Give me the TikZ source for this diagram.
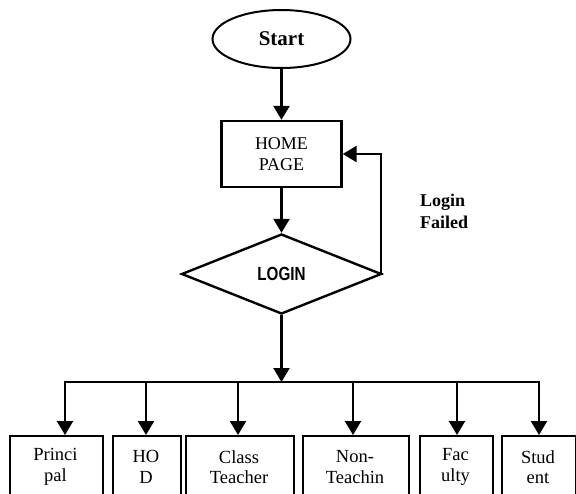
\documentclass[tikz,border=0pt]{standalone}
\usepackage{fontspec}
\setmainfont{Liberation Serif}
\newfontfamily\arialfont{Liberation Sans}
\usetikzlibrary{shapes.geometric,arrows.meta}
\tikzset{
  line/.style={line width=2.4pt},
  arr/.style={line width=2.4pt,-{Triangle[width=16pt,length=14pt]}},
  boxnode/.style={draw,line width=2.4pt,inner sep=0pt,anchor=north west},
  boxtext/.style={font=\fontsize{18.5}{20.5}\selectfont,align=center,inner sep=0pt},
}
\begin{document}
\begin{tikzpicture}[x=1pt,y=-1pt]
\useasboundingbox (0,0) rectangle (576,493);
\clip (0,0) rectangle (576,493);
% start
\node[draw,ellipse,line width=2pt,minimum width=138pt,minimum height=58pt,inner sep=0pt,
      font=\fontsize{21}{24}\bfseries] (start) at (281.5,39) {Start};
% home
\node[draw,line width=2.4pt,minimum width=120pt,minimum height=66pt,inner sep=0pt,align=center,
      font=\fontsize{18}{21}\selectfont] (home) at (281.5,154) {HOME\\PAGE};
% login
\node[draw,diamond,line width=2.4pt,minimum width=200pt,minimum height=80pt,inner sep=0pt,aspect=2.5,
      font=\arialfont\bfseries\fontsize{19}{22}\selectfont] (login) at (281.5,274) {\scalebox{0.8}[1]{LOGIN}};
\node[anchor=west,align=left,inner sep=0pt,font=\fontsize{18}{22}\bfseries] (failed) at (420,211) {Login\\Failed};
\coordinate (fb) at (381,154);
\coordinate (bar) at (281.5,382);
\draw[arr] (start.south) -- (home.north);
\draw[arr] (home.south) -- (login.north);
\draw[line] (login.east) -- (login.east -| fb) -- (fb);
\draw[arr] ([xshift=1.2pt]fb) -- (home.east);
\draw[arr] (login.south) -- (bar);
% boxes
\node[boxnode,minimum width=93pt,minimum height=90pt] (b1) at (9,435) {};
\node[boxnode,minimum width=68pt,minimum height=90pt] (b2) at (112,435) {};
\node[boxnode,minimum width=108pt,minimum height=90pt] (b3) at (185,435) {};
\node[boxnode,minimum width=106pt,minimum height=90pt] (b4) at (302,435) {};
\node[boxnode,minimum width=73pt,minimum height=90pt] (b5) at (419,435) {};
\node[boxnode,minimum width=74pt,minimum height=90pt] (b6) at (501,435) {};
\node[boxtext] (t1) at (55.5,467) {Princi\\pal};
\node[boxtext] (t2) at (146,467) {HO\\D};
\node[boxtext] (t3) at (239,467) {Class\\Teacher};
\node[boxtext] (t4) at (355,467) {Non-\\Teachin};
\node[boxtext] (t5) at (455.5,467) {Fac\\ulty};
\node[boxtext] (t6) at (538,467) {Stud\\ent};
% branch bar
\coordinate (c1) at (65,382);
\coordinate (c2) at (146,382);
\coordinate (c3) at (238,382);
\coordinate (c4) at (353,382);
\coordinate (c5) at (457,382);
\coordinate (c6) at (539,382);
\draw[line] ([xshift=-1.2pt]c1) -- ([xshift=1.2pt]c6);
\draw[arr] (c1) -- (c1 |- b1.north);
\draw[arr] (c2) -- (c2 |- b2.north);
\draw[arr] (c3) -- (c3 |- b3.north);
\draw[arr] (c4) -- (c4 |- b4.north);
\draw[arr] (c5) -- (c5 |- b5.north);
\draw[arr] (c6) -- (c6 |- b6.north);
\end{tikzpicture}
\end{document}
